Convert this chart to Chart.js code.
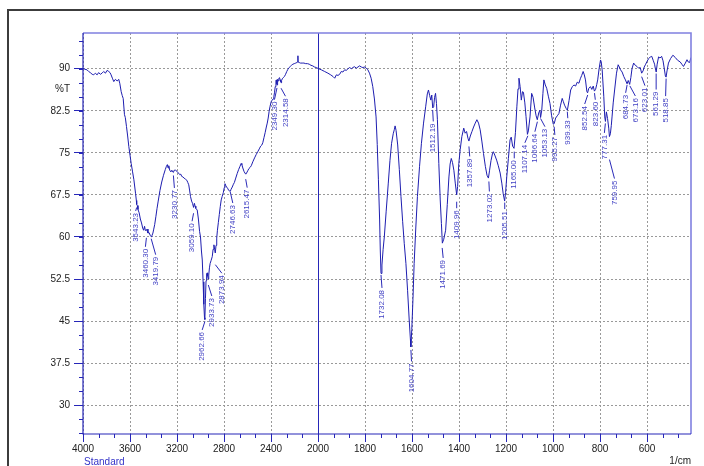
<!DOCTYPE html>
<html>
<head>
<meta charset="utf-8">
<script src="https://cdn.jsdelivr.net/npm/chart.js@4.4.1/dist/chart.umd.min.js"></script>
<style>
  html, body { margin: 0; padding: 0; background: #fff; }
  #wrap { width: 704px; height: 466px; position: relative; }
</style>
</head>
<body>
<div id="wrap"><canvas id="ir"></canvas></div>
<script>
// FTIR spectrum: wavenumber (1/cm) and transmittance (%T)
const waveNumbers = [
  4000,3985,3966,3952,3938,3922,3909,3895,3880,3867,3852,3838,3824,3809,3795,3781,3770,3761,3750,3738,
  3724,3709,3696,3687,3675,3666,3658,3647,3640,3630,3620,3610,3600,3590,3578,3567,3553,3546,3543,3538,
  3532,3522,3512,3502,3492,3484,3476,3470,3463,3455,3447,3438,3428,3420,3414,3405,3398,3390,3380,3370,
  3360,3345,3330,3315,3300,3290,3282,3276,3270,3262,3252,3244,3236,3231,3224,3212,3200,3188,3176,3168,
  3160,3150,3140,3128,3116,3108,3100,3092,3085,3076,3068,3062,3059,3052,3046,3040,3028,3018,3008,3000,
  2992,2985,2978,2972,2966,2963,2958,2953,2948,2943,2939,2934,2930,2924,2918,2910,2900,2893,2886,2880,
  2876,2874,2868,2862,2856,2848,2840,2832,2824,2816,2806,2798,2792,2786,2778,2770,2760,
  2752,2747,2740,2730,2720,2712,2700,2688,2676,2664,2654,2648,2640,2630,2622,2615,2608,2598,2588,2578,
  2568,2555,2540,2526,2513,2500,2488,2478,2470,2460,2450,2440,2432,2424,2416,2408,2399,2390,2382,2376,
  2370,2364,2358,2354,2351,2349,2346,2342,2338,2333,2328,2322,2318,2315,2310,2304,2296,2286,2276,2266,
  2256,2246,2236,2226,2214,2202,2190,2180,2172,2171,2170,2160,2150,2135,2120,2105,2090,2075,2060,2045,
  2030,2015,2000,
  1986,1972,1958,1946,1936,1929,1922,1915,1908,1901,1894,1887,1880,1873,1866,1858,1852,1845,1837,1830,
  1823,1816,1809,1802,1795,1788,1781,1774,1767,1760,1753,1748,1743,1738,1735,1732,1728,1723,1718,1710,
  1701,1694,1687,1680,1675,1672,1668,1661,1654,1647,1640,1633,1626,1619,1612,1607,1605,1601,1596,1591,
  1584,1577,1568,1560,1551,1542,1535,1530,1525,1520,1516,1512,1508,1504,1500,1496,1492,1486,1480,1475,
  1471,1465,1457,1450,1443,1438,1433,1428,1422,1416,1410,1406,1401,1395,1388,1380,1374,1368,1362,1358,
  1352,1345,1338,1331,1324,1317,1310,1303,1296,1288,1281,1275,1270,1264,1258,1254,1248,1240,1233,1225,
  1218,1212,1206,1202,1197,1190,1183,1178,1172,1166,1160,1154,1149,1145,1140,1135,1130,1126,1120,1115,
  1109,1105,1098,1091,1085,1078,1072,1067,1061,1056,1053,1048,1043,1039,1033,1027,1020,1013,1006,999,
  995,989,982,975,968,961,956,951,944,939,932,925,918,911,904,897,890,884,878,872,
  867,862,856,853,848,841,835,829,824,819,814,810,804,798,795,791,784,780,777,773,
  768,763,760,756,752,749,744,738,730,723,718,713,706,699,692,685,680,674,669,664,
  657,650,643,636,629,623,617,612,607,600,593,586,580,574,568,565,561,557,551,545,
  538,532,527,522,519,515,509,500,490,480,470,459,452,445,437,430,425,419,413
];
const transmittance = [
  90.1,89.9,89.8,89.5,89.3,89.0,88.9,89.2,88.9,89.3,89.0,89.2,89.5,89.2,89.7,89.5,89.3,88.9,88.3,87.7,
  88.1,87.8,88.1,87.4,85.9,85.2,84.7,81.8,81.3,79.7,78.0,76.1,74.6,73.1,71.6,70.2,67.8,66.5,65.8,65.6,
  64.9,64.3,63.2,62.5,61.6,61.2,61.9,61.2,61.1,61.4,60.7,60.8,60.3,60.05,60.2,60.7,61.4,62.2,63.6,65.1,
  66.4,68.3,69.8,71.0,72.0,72.6,72.9,72.3,72.7,71.9,71.6,71.9,71.6,71.5,71.9,71.9,71.7,71.4,71.1,71.2,
  70.8,70.7,70.5,70.3,70.1,69.7,69.3,68.2,67.2,66.4,66.0,65.5,65.3,66.0,65.5,65.1,64.8,63.2,61.0,60.0,
  57.5,55.9,52.0,48.0,45.6,45.3,49.0,52.2,53.4,53.6,53.0,52.5,53.2,54.5,55.3,55.8,56.5,57.8,58.6,57.8,
  57.3,57.2,58.5,59.8,61.2,62.6,64.0,65.4,66.6,67.2,67.9,68.8,69.5,69.2,68.9,68.7,68.3,
  68.2,68.1,68.5,68.9,69.4,69.7,70.5,71.3,72.0,72.6,73.1,72.9,72.3,71.7,71.4,71.2,71.4,71.8,72.2,72.4,
  72.7,73.4,74.1,74.7,75.2,75.7,76.2,76.4,76.8,77.7,78.6,79.6,80.3,81.2,82.4,83.3,84.1,84.4,84.6,85.0,
  85.8,86.8,87.9,88.0,87.3,87.1,87.9,88.1,87.8,88.3,88.4,88.0,87.7,87.5,87.9,88.2,88.4,88.6,89.0,89.5,
  89.9,90.2,90.4,90.6,90.8,90.9,91.0,91.1,91.2,92.3,91.2,91.1,91.0,91.0,91.0,90.9,90.9,90.8,90.6,90.5,
  90.3,90.2,90.05,
  89.8,89.5,89.2,88.9,88.6,88.3,88.9,88.8,89.0,89.5,89.4,89.8,89.7,89.95,90.2,90.0,90.2,90.35,90.1,90.3,
  90.5,90.3,90.2,90.3,90.1,89.8,89.2,88.3,86.8,84.6,81.4,76.5,70.2,63.2,57.5,53.5,55.0,57.8,60.0,64.6,
  69.6,73.6,76.7,78.4,79.2,79.8,79.0,76.4,72.0,67.2,62.8,58.8,55.3,50.5,45.2,41.8,40.4,43.5,49.0,55.3,
  61.6,67.2,72.6,76.7,80.3,83.2,85.5,86.2,85.2,84.4,85.3,83.0,83.2,84.9,85.6,83.8,80.9,73.1,66.6,62.4,
  58.9,59.6,61.2,65.8,70.7,73.0,74.0,73.3,71.9,69.6,67.5,69.0,73.1,75.6,77.9,79.4,78.5,78.8,77.6,77.1,
  78.0,78.8,79.6,80.3,80.9,80.3,79.1,77.1,74.9,72.6,71.0,70.5,71.9,73.6,74.8,75.2,74.6,73.7,72.7,71.4,
  69.6,67.7,66.4,67.9,70.7,74.0,77.3,77.8,76.2,75.8,78.6,83.2,86.4,88.3,86.8,84.4,85.9,85.8,83.9,81.5,
  78.3,78.9,81.4,85.6,84.9,83.0,81.6,80.9,82.1,82.6,81.3,82.6,85.6,88.0,87.1,86.5,85.1,83.8,81.6,80.1,
  80.2,81.2,81.6,82.0,83.5,84.7,84.1,83.5,82.9,82.6,84.3,86.2,86.8,87.1,86.9,87.6,87.4,88.2,88.8,89.5,
  88.9,88.0,85.9,85.7,86.5,86.8,86.3,86.9,86.0,86.3,87.2,88.0,90.0,91.55,91.2,89.8,85.0,81.4,80.6,82.3,
  81.1,79.4,77.9,78.4,79.9,81.4,83.9,86.2,89.2,90.7,90.3,89.8,89.4,88.6,88.0,87.3,87.9,87.2,88.4,90.0,
  91.0,90.6,90.4,90.1,90.2,89.2,89.6,90.3,90.7,91.3,91.8,92.1,92.2,91.5,90.8,90.1,89.4,90.8,92.1,91.9,
  92.2,91.4,90.1,88.7,88.5,89.6,91.0,91.8,92.4,92.0,91.5,91.2,90.8,90.4,91.0,91.6,91.2,91.1,92.0
];

// Marked absorption bands: wavenumber and the transmittance at the band
const peakWaveNumbers = [
  3543.23,3460.30,3419.79,3230.77,3059.10,2962.66,2933.73,2873.94,2746.63,2615.47,2349.30,2314.58,
  1732.08,1604.77,1512.19,1471.69,1409.96,1357.89,1273.02,1205.51,1165.00,1107.14,1066.64,1053.13,
  995.27,939.33,852.54,823.60,777.31,759.95,684.73,673.16,623.01,561.29,518.85
];
const peakTransmittance = [
  65.8,61.1,60.05,71.5,65.3,45.3,52.6,57.2,68.1,71.2,87.1,87.5,
  53.5,40.4,83.0,58.9,67.5,77.1,70.5,66.4,75.8,78.3,80.9,81.3,
  80.2,82.6,85.7,86.0,80.6,77.9,87.3,87.2,89.2,89.4,88.5
];

// Axis ticks
const xMajorTicks = [4000,3600,3200,2800,2400,2000,1800,1600,1400,1200,1000,800,600];
const yMajorTicks = [30,37.5,45,52.5,60,67.5,75,82.5,90];

// Label leader layout in pixels: [horizontal shift, start gap, end offset]
const leaderLayout = [
  [-1,3,6.5],[-1,7,16],[4.5,2,18],[1,3,15.5],[-1.5,6,14],[-2.7,2,10.5],[3.5,6.5,17.5],[6.5,12,20.5],
  [2.5,0.5,11.5],[1.5,5,13.5],[-2.5,3,14.7],[4.4,5.5,13.5],
  [1,1.5,14.5],[0.6,3,14.5],[0.6,2,13.5],[1,4.8,14.8],[0,6.8,13.3],[0.8,5.4,15.4],[0.5,3.4,13.4],
  [0,1.5,8],[0,3.3,10],[-3,1.5,8.5],[-2.5,2,12],[4.4,1,9.2],
  [0.7,3,11.3],[0.5,1.5,8],[-3,2.2,11.2],[0.8,2,8.6],[-1,2,11.5],[5,23,42],[-1.5,1,9],[5.5,1.5,11.6],
  [3.3,3.5,12.5],[0,1.5,17.5],[-0.5,1.5,19]
];

// The range below 2000 1/cm is drawn with twice the scale of the range above it.
const SPLIT = 2000;
function toAxis(w) { return w >= SPLIT ? (4000 - w) / 2 : (4000 - SPLIT) / 2 + (SPLIT - w); }
function fromAxis(p) { return p <= 1000 ? 4000 - 2 * p : SPLIT - (p - 1000); }
const X_END = 413;

const BLUE = '#2626b8';
const LINE = '#1e1eb0';
const FONT = '"Liberation Sans", Arial, sans-serif';

const points = waveNumbers.map((w, i) => ({ x: toAxis(w), y: transmittance[i] }));

const framePlugin = {
  id: 'frame',
  beforeDraw(chart) {
    const { ctx } = chart;
    ctx.save();
    ctx.fillStyle = '#fff';
    ctx.fillRect(0, 0, chart.width, chart.height);
    // outer window frame
    ctx.strokeStyle = '#3c3c3c';
    ctx.lineWidth = 2;
    ctx.beginPath();
    ctx.moveTo(8, chart.height);
    ctx.lineTo(8, 10);
    ctx.lineTo(chart.width, 10);
    ctx.stroke();
    ctx.restore();
  },
  beforeDatasetsDraw(chart) {
    const { ctx, chartArea: a, scales: { x } } = chart;
    const xs = Math.round(x.getPixelForValue(toAxis(SPLIT))) + 0.5;
    ctx.save();
    ctx.strokeStyle = BLUE;
    ctx.lineWidth = 1;
    ctx.beginPath();
    ctx.moveTo(xs, a.top);
    ctx.lineTo(xs, a.bottom);
    ctx.stroke();
    ctx.restore();
  },
  afterDraw(chart) {
    const { ctx, chartArea: a, scales: { x, y } } = chart;
    ctx.save();
    // minor ticks
    ctx.strokeStyle = BLUE;
    ctx.lineWidth = 1;
    ctx.beginPath();
    for (let p = 0; p <= toAxis(X_END); p += 200 / 3) {
      const px = Math.round(x.getPixelForValue(p)) + 0.5;
      ctx.moveTo(px, a.bottom);
      ctx.lineTo(px, a.bottom + 4);
    }
    for (let t = 25; t <= 95; t += 2.5) {
      const py = Math.round(y.getPixelForValue(t)) + 0.5;
      ctx.moveTo(a.left - 4, py);
      ctx.lineTo(a.left, py);
    }
    ctx.stroke();
    // plot border
    ctx.strokeStyle = '#8080e0';
    ctx.lineWidth = 1.6;
    ctx.beginPath();
    ctx.moveTo(a.left, a.top);
    ctx.lineTo(a.right, a.top);
    ctx.lineTo(a.right, a.bottom);
    ctx.stroke();
    ctx.strokeStyle = BLUE;
    ctx.lineWidth = 1.2;
    ctx.beginPath();
    ctx.moveTo(a.left, a.top);
    ctx.lineTo(a.left, a.bottom);
    ctx.lineTo(a.right, a.bottom);
    ctx.stroke();
    // axis captions
    ctx.font = '10px ' + FONT;
    ctx.fillStyle = '#222';
    ctx.textAlign = 'right';
    ctx.textBaseline = 'middle';
    ctx.fillText('%T', a.left - 13, y.getPixelForValue(86.4));
    ctx.textBaseline = 'alphabetic';
    ctx.fillText('1/cm', a.right, 464);
    ctx.fillStyle = '#3434c8';
    ctx.textAlign = 'left';
    ctx.fillText('Standard', a.left + 1, 465);
    ctx.restore();
  }
};

const peakLabelPlugin = {
  id: 'peakLabels',
  afterDatasetsDraw(chart) {
    const { ctx, scales: { x, y } } = chart;
    peakWaveNumbers.forEach((w, i) => {
      const px = x.getPixelForValue(toAxis(w));
      const py = y.getPixelForValue(peakTransmittance[i]);
      const [dx, gap, end] = leaderLayout[i];
      ctx.save();
      ctx.strokeStyle = '#2a2ab8';
      ctx.lineWidth = 1;
      ctx.beginPath();
      ctx.moveTo(px, py + gap);
      ctx.lineTo(px + dx, py + end);
      ctx.stroke();
      ctx.translate(px + dx, py + end + 2);
      ctx.rotate(-Math.PI / 2);
      ctx.font = '8px ' + FONT;
      ctx.fillStyle = '#4242c4';
      ctx.textAlign = 'right';
      ctx.textBaseline = 'middle';
      ctx.fillText(w.toFixed(2), 0, 0);
      ctx.restore();
    });
  }
};

new Chart(document.getElementById('ir'), {
  type: 'line',
  data: {
    datasets: [{
      data: points,
      borderColor: LINE,
      borderWidth: 1,
      pointRadius: 0,
      tension: 0,
      fill: false
    }]
  },
  options: {
    responsive: true,
    maintainAspectRatio: false,
    animation: false,
    events: [],
    layout: { padding: { left: 0, right: 13, top: 33, bottom: 0 } },
    plugins: { legend: { display: false }, tooltip: { enabled: false } },
    scales: {
      x: {
        type: 'linear',
        min: 0,
        max: toAxis(X_END),
        afterFit(scale) { scale.height = 32; },
        afterBuildTicks(scale) { scale.ticks = xMajorTicks.map(w => ({ value: toAxis(w) })); },
        ticks: {
          autoSkip: false,
          maxRotation: 0,
          padding: 1,
          color: '#222',
          font: { family: FONT, size: 10 },
          callback: v => String(Math.round(fromAxis(v)))
        },
        grid: { color: '#999', lineWidth: 1, tickColor: BLUE, tickLength: 8, drawTicks: true },
        border: { display: false, dash: [2, 2] }
      },
      y: {
        type: 'linear',
        min: 24.88,
        max: 96.36,
        afterFit(scale) { scale.width = 83; },
        afterBuildTicks(scale) { scale.ticks = yMajorTicks.map(v => ({ value: v })); },
        ticks: {
          autoSkip: false,
          padding: 4,
          color: '#222',
          font: { family: FONT, size: 10 },
          callback: v => String(v)
        },
        grid: { color: '#999', lineWidth: 1, tickColor: BLUE, tickLength: 9, drawTicks: true },
        border: { display: false, dash: [2, 2] }
      }
    }
  },
  plugins: [framePlugin, peakLabelPlugin]
});
</script>
</body>
</html>
